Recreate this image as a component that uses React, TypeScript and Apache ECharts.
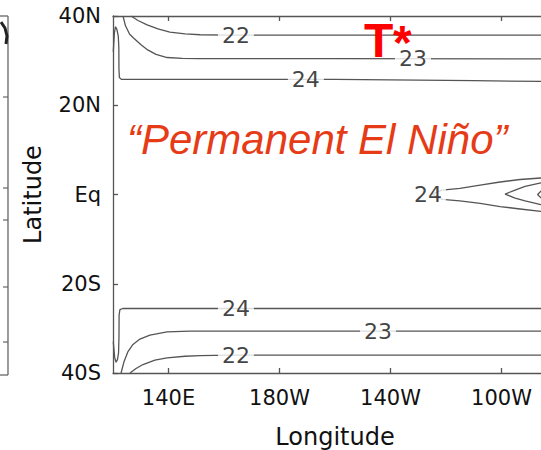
import React, { useEffect, useRef } from "react";
import * as echarts from "echarts";

// Axis ticks
const lonTicks = [140, 180, 220, 260];
const latTicks = [-40, -20, 0, 20, 40];

// Contours [lon (deg E), lat]
const c22N = [[126.5, 40], [129, 39], [132.3, 38], [136.2, 37.1], [140.5, 36.4], [146, 36], [151.4, 35.8], [162, 35.7], [200, 35.7], [240, 35.7], [280, 35.7]];
const c23N = [[123.6, 40], [124.5, 37.8], [126, 35.9], [127.5, 35], [130, 33.6], [132.5, 32.4], [135.5, 31.4], [139.5, 30.7], [145, 30.5], [151, 30.45], [200, 30.45], [280, 30.4]];
const c24N = [[120.1, 32], [120.5, 36.2], [120.9, 37.6], [121.4, 37], [121.9, 35.5], [122.1, 33], [122.15, 28], [122.3, 26.2], [123, 25.8], [160, 25.8], [200, 25.8], [220, 25.7], [250, 25.5], [280, 25.3]];
const c24S = [[120.1, -33], [120.6, -36.5], [121.1, -37.6], [121.6, -37], [122, -35.5], [122.15, -32], [122.2, -27], [122.5, -25.8], [123.5, -25.55], [200, -25.55], [280, -25.55]];
const c23S = [[122.9, -40], [124, -37.4], [125.4, -35.2], [127.2, -33.6], [129.7, -32.4], [133.3, -31.5], [139.5, -30.8], [147.7, -30.6], [200, -30.6], [280, -30.6]];
const c22S = [[126.1, -40], [128.3, -39], [130.8, -38.1], [135.1, -37.1], [139.5, -36.6], [145.9, -36.25], [151.4, -36.1], [162, -36], [280, -36]];
const c24Eq = [[280, 3.8], [274.2, 3.7], [266.7, 3.36], [259.5, 2.8], [252.3, 2.1], [245, 1.35], [238.6, 1.0], [235, 0.1], [238.6, -1.1], [245, -1.45], [252.3, -2], [259.5, -2.7], [266.7, -3.25], [274.2, -3.8], [280, -4]];
const c25Eq = [[280, 3.1], [274.2, 2.6], [268.5, 1.8], [264.9, 1.0], [261.3, 0.1], [264.9, -0.8], [268.5, -1.45], [274.2, -2.25], [280, -2.8]];
const c26Eq = [[278, 1.4], [274.5, 0.9], [273, 0], [274.5, -0.9], [278, -1.4]];
const contours = [c22N, c23N, c24N, c24S, c23S, c22S, c24Eq, c25Eq, c26Eq];

// Contour labels [lon, lat, text]
const contourLabels = [
  [164.3, 35.7, "22"],
  [228.1, 30.45, "23"],
  [189.5, 25.8, "24"],
  [233.5, 0, "24"],
  [164.3, -25.55, "24"],
  [215.5, -30.6, "23"],
  [164.3, -36, "22"],
];

const FONT = "DejaVu Sans";
const LINE = "#555";
const TEXT = "#111";

export default function App() {
  const ref = useRef<HTMLDivElement>(null);
  useEffect(() => {
    const chart = echarts.init(ref.current!, null, { renderer: "svg" });
    const lonFmt = (v: number) => (v < 180 ? `${v}E` : `${360 - v}W`);
    const latFmt = (v: number) => (v === 0 ? "Eq" : v > 0 ? `${v}N` : `${-v}S`);
    const series: any[] = contours.map((c) => ({
      type: "line",
      data: c,
      showSymbol: false,
      symbol: "none",
      smooth: false,
      lineStyle: { color: LINE, width: 1.3 },
      z: 2,
    }));
    series.push({
      type: "scatter",
      data: contourLabels,
      symbolSize: 1,
      itemStyle: { color: "rgba(0,0,0,0)" },
      z: 5,
      label: {
        show: true,
        position: "inside",
        formatter: (p: any) => p.data[2],
        color: TEXT,
        fontFamily: FONT,
        fontSize: 22,
        lineHeight: 22,
        backgroundColor: "#fff",
        padding: [0, 4],
      },
    });
    const tickStyle = { color: LINE, width: 1.3 };
    chart.setOption({
      animation: false,
      backgroundColor: "#fff",
      grid: { left: 113, top: 16, bottom: 77, right: 63, show: false, containLabel: false, outerBoundsMode: "none" },
      xAxis: [
        {
          type: "value",
          min: 120,
          max: 280,
          name: "Longitude",
          nameLocation: "middle",
          nameGap: 52,
          nameTextStyle: { fontFamily: FONT, fontSize: 24, color: TEXT },
          axisLine: { show: true, onZero: false, lineStyle: tickStyle },
          axisTick: { show: true, inside: true, length: 5, customValues: lonTicks, lineStyle: tickStyle },
          axisLabel: { customValues: lonTicks, formatter: lonFmt, fontFamily: FONT, fontSize: 21, color: TEXT, margin: 14 },
          splitLine: { show: false },
        },
        {
          type: "value",
          position: "top",
          min: 120,
          max: 280,
          axisLine: { show: true, onZero: false, lineStyle: tickStyle },
          axisTick: { show: true, inside: true, length: 5, customValues: lonTicks, lineStyle: tickStyle },
          axisLabel: { show: false },
          splitLine: { show: false },
        },
      ],
      yAxis: {
        type: "value",
        min: -40,
        max: 40,
        interval: 20,
        name: "Latitude",
        nameLocation: "middle",
        nameGap: 68,
        nameTextStyle: { fontFamily: FONT, fontSize: 24, color: TEXT },
        axisLine: { show: true, onZero: false, lineStyle: tickStyle },
        axisTick: { show: true, inside: true, length: 5, customValues: latTicks, lineStyle: tickStyle },
        axisLabel: { formatter: latFmt, fontFamily: FONT, fontSize: 21, color: TEXT, margin: 12 },
        splitLine: { show: false },
      },
      graphic: [
        { type: "line", shape: { x1: 8, y1: 16, x2: 8, y2: 375 }, style: { stroke: "#666", lineWidth: 1.3 } },
        { type: "line", shape: { x1: 0, y1: 16, x2: 8, y2: 16 }, style: { stroke: "#666", lineWidth: 1.3 } },
        { type: "line", shape: { x1: 0, y1: 375, x2: 8, y2: 375 }, style: { stroke: "#666", lineWidth: 1.3 } },
        { type: "line", shape: { x1: 3, y1: 97, x2: 8, y2: 97 }, style: { stroke: "#666", lineWidth: 1.2 } },
        { type: "line", shape: { x1: 3, y1: 188, x2: 8, y2: 188 }, style: { stroke: "#666", lineWidth: 1.2 } },
        { type: "line", shape: { x1: 3, y1: 220, x2: 8, y2: 220 }, style: { stroke: "#666", lineWidth: 1.2 } },
        { type: "line", shape: { x1: 3, y1: 287, x2: 8, y2: 287 }, style: { stroke: "#666", lineWidth: 1.2 } },
        { type: "line", shape: { x1: 3, y1: 342, x2: 8, y2: 342 }, style: { stroke: "#666", lineWidth: 1.2 } },
        { type: "polyline", shape: { points: [[1, 22], [5, 28], [7, 36], [6, 44]] }, style: { stroke: "#222", lineWidth: 3, fill: "none" } },
        {
          type: "text",
          x: 364,
          y: 40,
          style: { text: "T", fill: "#ff0000", fontSize: 48, lineHeight: 34, fontWeight: "bold", fontFamily: "Liberation Sans", verticalAlign: "middle", align: "left" },
          z: 10,
        },
        {
          type: "text",
          x: 393,
          y: 42,
          style: { text: "*", fill: "#ff0000", fontSize: 48, lineHeight: 12, fontWeight: "bold", fontFamily: "Liberation Sans", verticalAlign: "middle", align: "left" },
          z: 10,
        },
        {
          type: "text",
          x: 127,
          y: 139,
          style: { text: "\u201CPermanent El Ni\u00F1o\u201D", fill: "#e63b17", fontSize: 42, fontStyle: "italic", fontFamily: "Liberation Sans", verticalAlign: "middle", align: "left" },
          z: 10,
        },
      ],
      series,
    });
    return () => chart.dispose();
  }, []);
  return (
    <div style={{ position: "fixed", left: 0, top: 0, width: 541, height: 450, overflow: "hidden", background: "#fff" }}>
      <div ref={ref} style={{ width: 620, height: 450 }} />
    </div>
  );
}
